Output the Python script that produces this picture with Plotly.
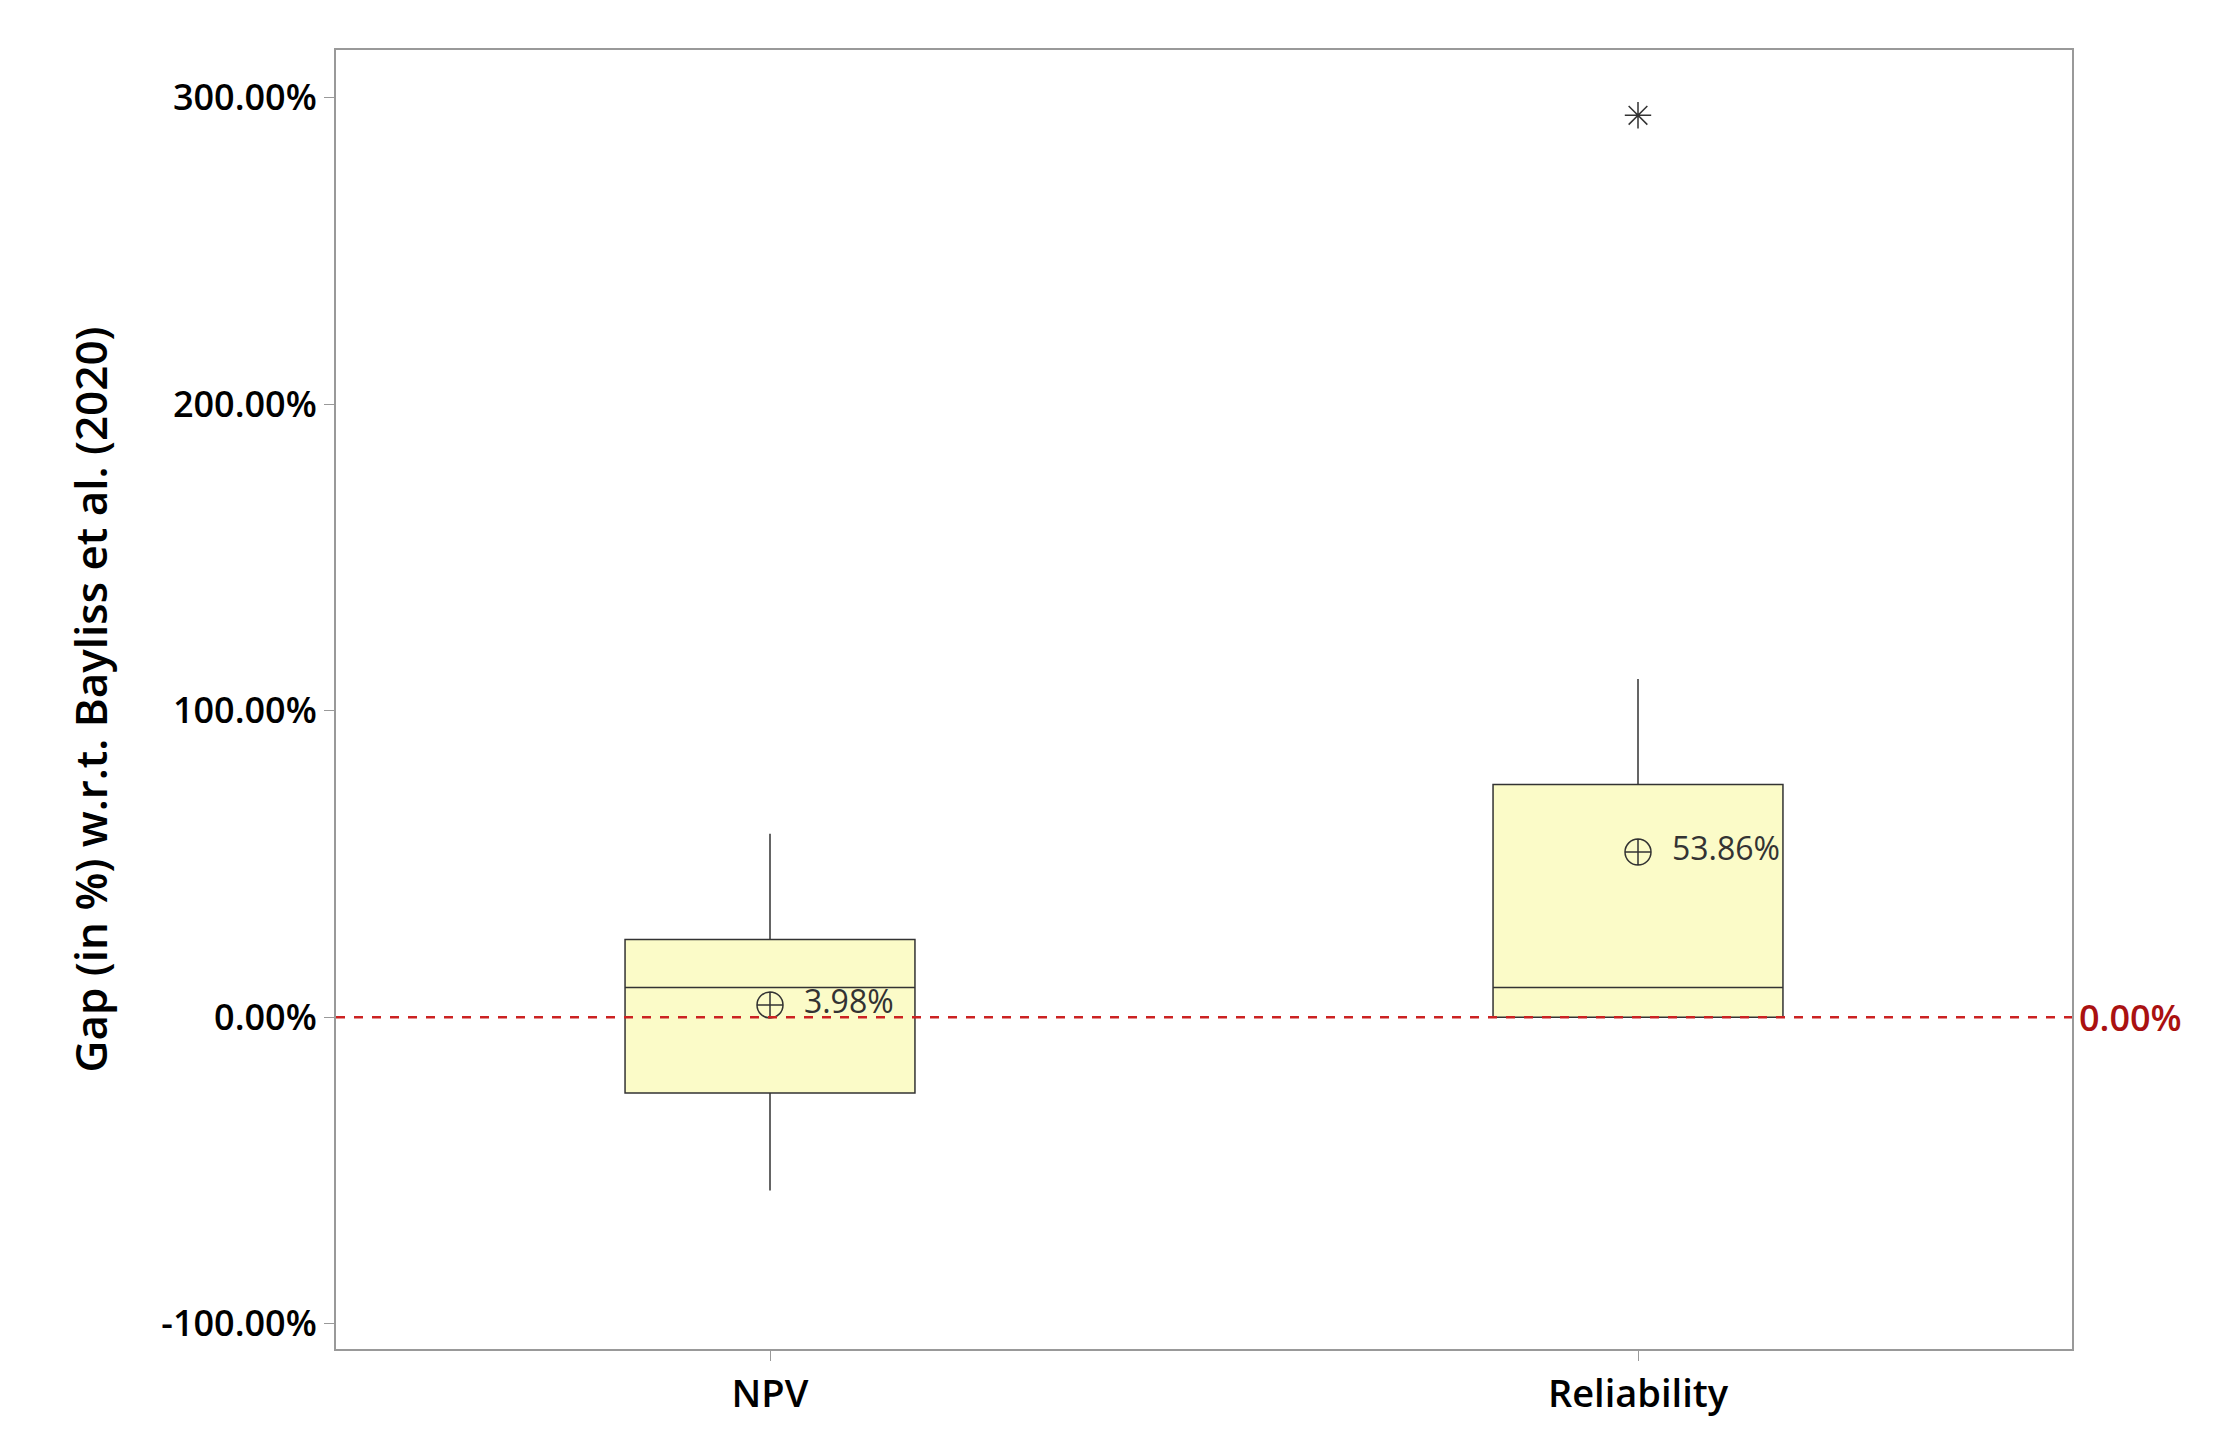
import plotly.graph_objects as go

categories = ["NPV", "Reliability"]
xpos = [0, 1]
q1 = [-24.8, 0.0]
median = [9.7, 9.7]
q3 = [25.3, 75.9]
lower = [-56.6, -0.3]
upper = [59.8, 110.3]
means = [3.98, 53.86]
outlier_x = [1]
outlier_y = [294.3]

fig = go.Figure()
fig.add_trace(go.Box(x=xpos, q1=q1, median=median, q3=q3, lowerfence=lower, upperfence=upper,
                     width=0.334, fillcolor="#FBFBC8", line=dict(color="#333333", width=1.5),
                     whiskerwidth=0, boxpoints=False, showlegend=False, hoverinfo="skip"))
fig.add_trace(go.Scatter(x=outlier_x, y=outlier_y, mode="markers",
                         marker=dict(symbol="asterisk-open", size=22, color="#333333",
                                     line=dict(color="#333333", width=1.5)),
                         showlegend=False))
fig.add_trace(go.Scatter(x=xpos, y=means, mode="markers+text",
                         text=[f"  {m:.2f}%" for m in means], textposition="middle right",
                         textfont=dict(size=32, color="#333333", family="Open Sans"),
                         marker=dict(symbol="circle-cross-open", size=26, color="#333333",
                                     line=dict(color="#333333", width=1.5)),
                         showlegend=False))
fig.add_shape(type="line", xref="paper", x0=0, x1=1, y0=0, y1=0,
              line=dict(color="#CC2222", width=2.5, dash="dash"))
fig.add_annotation(xref="paper", x=1.003, y=0, text="0.00%", showarrow=False, xanchor="left",
                   font=dict(size=36, color="#AA1111", family="Open Sans", weight=600))
fig.update_layout(
    width=2214, height=1435, plot_bgcolor="white", paper_bgcolor="white",
    margin=dict(l=328, r=150, t=42, b=94),
    font=dict(family="Open Sans", color="black"),
    xaxis=dict(range=[-0.5, 1.5], tickvals=xpos, ticktext=categories,
               tickfont=dict(size=38, weight=600),
               showline=True, mirror=True, linecolor="#999999", linewidth=2, ticks="outside",
               tickcolor="#999999", ticklen=10, showgrid=False, zeroline=False),
    yaxis=dict(range=[-108.3, 315.6], tickvals=[-100, 0, 100, 200, 300],
               ticktext=["-100.00%", "0.00%", "100.00%", "200.00%", "300.00%"],
               tickfont=dict(size=36, weight=600),
               title=dict(text="Gap (in %) w.r.t. Bayliss et al. (2020)", font=dict(size=44, weight=600), standoff=40),
               showline=True, mirror=True, linecolor="#999999", linewidth=2, ticks="outside",
               tickcolor="#999999", ticklen=10, showgrid=False, zeroline=False),
)
fig.write_html("out.html")
